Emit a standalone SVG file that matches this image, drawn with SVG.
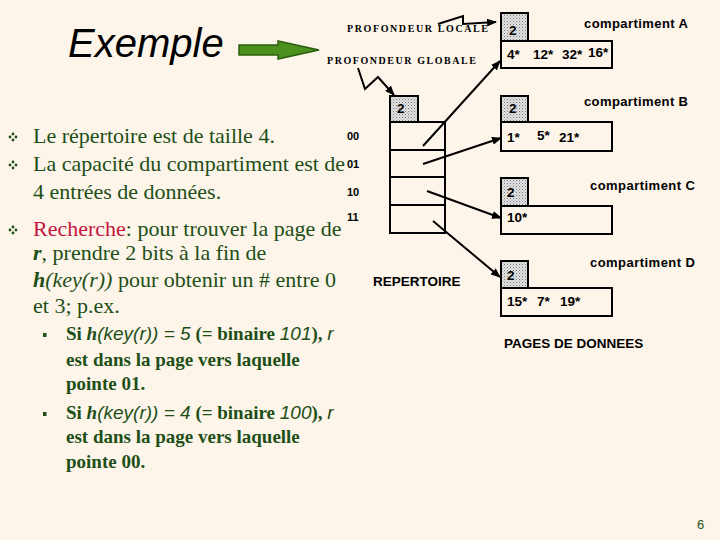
<svg xmlns="http://www.w3.org/2000/svg" width="720" height="540" viewBox="0 0 720 540">
<defs>
<pattern id="dots" width="3" height="3" patternUnits="userSpaceOnUse">
<rect width="3" height="3" fill="#e4e4e4"/>
<rect x="0" y="0" width="1" height="1" fill="#777"/>
<rect x="1.5" y="1.5" width="1" height="1" fill="#999"/>
</pattern>
<marker id="ah" markerWidth="10" markerHeight="8" refX="9" refY="4" orient="auto" markerUnits="userSpaceOnUse">
<path d="M0,0 L10,4 L0,8 Z" fill="#000"/>
</marker>
<g id="diam">
<circle cx="0" cy="-3" r="1.4"/><circle cx="-3" cy="0" r="1.4"/><circle cx="3" cy="0" r="1.4"/><circle cx="0" cy="3" r="1.4"/>
</g>
</defs>
<style>
.bg{fill:#fdf5ea}
.box{fill:#fdf5ea;stroke:#000;stroke-width:2}
.hdr{fill:url(#dots);stroke:#000;stroke-width:2}
.lbl{font-family:"Liberation Sans",Arial,sans-serif;font-weight:bold;font-size:13px;fill:#000}
.num{font-family:"Liberation Sans",Arial,sans-serif;font-weight:bold;font-size:13.5px;fill:#000}
.bits{font-family:"Liberation Sans",Arial,sans-serif;font-weight:bold;font-size:11px;fill:#000}
.prof{font-family:"Liberation Serif","Times New Roman",serif;font-weight:bold;font-size:10px;fill:#000}
.conn{fill:none;stroke:#000;stroke-width:2;marker-end:url(#ah)}
.body{font-family:"Liberation Serif","Times New Roman",serif;font-size:22px;fill:#1d4f17}
.sub{font-family:"Liberation Serif","Times New Roman",serif;font-size:19px;font-weight:bold;fill:#1d4f17}
.it{font-style:italic}
.bi{font-style:italic;font-weight:bold}
.si{font-family:"Liberation Sans",Arial,sans-serif;font-style:italic;font-weight:normal}
.red{fill:#c4163f}
</style>
<rect class="bg" x="0" y="0" width="720" height="540"/>

<g id="title">
<text x="68" y="57" font-family="Liberation Sans, Arial, sans-serif" font-style="italic" font-size="40" fill="#000">Exemple</text>
<polygon points="239,45 278,45 278,41 319,50 278,59 278,55 239,55" fill="#4b8f1d" stroke="#2c5e10" stroke-width="1.5"/>
</g>

<g id="labels-prof">
<text class="prof" x="347" y="32" textLength="141" lengthAdjust="spacing">PROFONDEUR LOCALE</text>
<text class="prof" x="327" y="64" textLength="149" lengthAdjust="spacing">PROFONDEUR GLOBALE</text>
</g>

<g id="repertoire">
<rect class="hdr" x="390" y="96" width="28" height="26"/>
<text class="num" x="397" y="113">2</text>
<rect class="box" x="390" y="122" width="55" height="111"/>
<line x1="390" y1="150" x2="445" y2="150" stroke="#000" stroke-width="2"/>
<line x1="390" y1="177" x2="445" y2="177" stroke="#000" stroke-width="2"/>
<line x1="390" y1="205" x2="445" y2="205" stroke="#000" stroke-width="2"/>
<text class="bits" x="347" y="140">00</text>
<text class="bits" x="347" y="168">01</text>
<text class="bits" x="347" y="196">10</text>
<text class="bits" x="347" y="221">11</text>
<text class="num" x="373" y="286">REPERTOIRE</text>
</g>

<g id="compA">
<rect class="hdr" x="501" y="13" width="27" height="28"/>
<text class="num" x="509" y="35">2</text>
<rect class="box" x="501" y="41" width="111" height="27"/>
<text class="num" x="507" y="59">4*</text>
<text class="num" x="533" y="59">12*</text>
<text class="num" x="562" y="59">32*</text>
<text class="num" x="588" y="57">16*</text>
<text class="lbl" x="584" y="28" textLength="104" lengthAdjust="spacing">compartiment A</text>
</g>

<g id="compB">
<rect class="hdr" x="501" y="96" width="27" height="26"/>
<text class="num" x="509" y="113">2</text>
<rect class="box" x="501" y="122" width="111" height="29"/>
<text class="num" x="507" y="142">1*</text>
<text class="num" x="537" y="140">5*</text>
<text class="num" x="559" y="142">21*</text>
<text class="lbl" x="584" y="106" textLength="104" lengthAdjust="spacing">compartiment B</text>
</g>

<g id="compC">
<rect class="hdr" x="501" y="178" width="27" height="28"/>
<text class="num" x="507" y="197">2</text>
<rect class="box" x="501" y="206" width="111" height="28"/>
<text class="num" x="507" y="222">10*</text>
<text class="lbl" x="590" y="190" textLength="105" lengthAdjust="spacing">compartiment C</text>
</g>

<g id="compD">
<rect class="hdr" x="501" y="261" width="27" height="27"/>
<text class="num" x="507" y="280">2</text>
<rect class="box" x="501" y="288" width="111" height="28"/>
<text class="num" x="507" y="306">15*</text>
<text class="num" x="537" y="306">7*</text>
<text class="num" x="560" y="306">19*</text>
<text class="lbl" x="590" y="267" textLength="105" lengthAdjust="spacing">compartiment D</text>
<text class="num" x="504" y="348">PAGES DE DONNEES</text>
</g>

<g id="connectors">
<polyline class="conn" points="438,24 463,16 463,24 496,22"/>
<polyline class="conn" points="358,68 365,89 378,77 394,95"/>
<line class="conn" x1="423" y1="146" x2="500" y2="61"/>
<line class="conn" x1="423" y1="164" x2="501" y2="138"/>
<line class="conn" x1="427" y1="191" x2="501" y2="218"/>
<line class="conn" x1="433" y1="221" x2="500" y2="277"/>
</g>

<g id="text-body">
<g fill="#1d4f17">
<use href="#diam" x="13" y="137"/>
<use href="#diam" x="13" y="165"/>
<use href="#diam" x="13" y="230"/>
<rect x="43" y="333" width="3.5" height="4"/>
<rect x="43" y="412" width="3.5" height="4"/>
</g>
<text class="body" x="33" y="143">Le répertoire est de taille 4.</text>
<text class="body" x="33" y="171">La capacité du compartiment est de</text>
<text class="body" x="33" y="199">4 entrées de données.</text>
<text class="body" x="33" y="236"><tspan class="red">Recherche</tspan>: pour trouver la page de</text>
<text class="body" x="33" y="260"><tspan class="bi">r</tspan>, prendre 2 bits à la fin de</text>
<text class="body" x="33" y="287"><tspan class="bi">h</tspan><tspan class="it">(key(r))</tspan> pour obtenir un # entre 0</text>
<text class="body" x="33" y="313">et 3; p.ex.</text>
<text class="sub" x="66" y="340">Si <tspan class="bi">h</tspan><tspan class="si">(key(r)) = 5</tspan> (= binaire <tspan class="si">101</tspan>), <tspan class="si">r</tspan></text>
<text class="sub" x="66" y="366">est dans la page vers laquelle</text>
<text class="sub" x="66" y="390">pointe 01.</text>
<text class="sub" x="66" y="419">Si <tspan class="bi">h</tspan><tspan class="si">(key(r)) = 4</tspan> (= binaire <tspan class="si">100</tspan>), <tspan class="si">r</tspan></text>
<text class="sub" x="66" y="443">est dans la page vers laquelle</text>
<text class="sub" x="66" y="468">pointe 00.</text>
</g>

<text x="697" y="529" font-family="Liberation Sans, Arial, sans-serif" font-size="13" fill="#1d4f17">6</text>
</svg>
